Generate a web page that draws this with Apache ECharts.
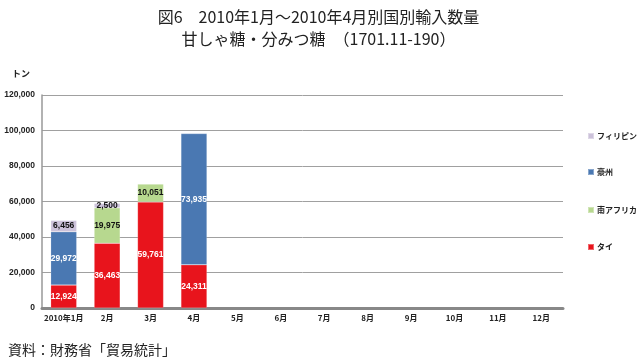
<!DOCTYPE html>
<html><head><meta charset="utf-8">
<script src="https://cdn.jsdelivr.net/npm/echarts@6/dist/echarts.min.js"></script>
<style>html,body{margin:0;padding:0;background:#fff}#c{width:637px;height:363px}</style>
</head><body><div id="c"></div>
<script>
const categories = ['2010年1月','2月','3月','4月','5月','6月','7月','8月','9月','10月','11月','12月'];
const thai = [12924, 36463, 59761, 24311, null, null, null, null, null, null, null, null];
const australia = [29972, null, null, 73935, null, null, null, null, null, null, null, null];
const southAfrica = [null, 19975, 10051, null, null, null, null, null, null, null, null, null];
const philippines = [6456, 2500, null, null, null, null, null, null, null, null, null, null];
const yTicks = [0, 20000, 40000, 60000, 80000, 100000, 120000];

const font = '"Noto Sans CJK JP", "Noto Sans", sans-serif';
const numFont = '"Liberation Sans", "Noto Sans CJK JP", sans-serif';
const chart = echarts.init(document.getElementById('c'));
function mk(name, data, color, labelColor) {
  return {
    name, type: 'bar', stack: 'a', data, barWidth: 26,
    itemStyle: { color, borderColor: 'rgba(255,255,255,0.35)', borderWidth: 0.5 },
    label: { show: true, position: 'inside', color: labelColor, fontSize: 8.5, fontWeight: 'bold', fontFamily: numFont,
      formatter: p => p.value == null ? '' : p.value.toLocaleString('en-US') }
  };
}
const legendItems = [['フィリピン', 132], ['豪州', 168], ['南アフリカ', 206], ['タイ', 243]];
chart.setOption({
  animation: false,
  title: {
    text: '図6　2010年1月～2010年4月別国別輸入数量\n甘しゃ糖・分みつ糖　（1701.11-190）',
    left: 'center', top: 1,
    textStyle: { fontFamily: font, fontSize: 16, fontWeight: 'normal', color: '#222', lineHeight: 22 }
  },
  graphic: [
    { type: 'text', left: 12, top: 69, style: { text: 'トン', font: 'bold 9px ' + font, fill: '#222' } },
    { type: 'text', left: 8, top: 343, style: { text: '資料：財務省「貿易統計」', font: '14px ' + font, fill: '#222' } }
  ],
  legend: legendItems.map(([n, t]) => ({
    data: [n], left: 587, top: t, width: 60, itemWidth: 6, itemHeight: 6, icon: 'rect',
    textStyle: { fontFamily: font, fontSize: 8, fontWeight: 'bold', color: '#222', padding: [0, 0, 0, -2] }, itemGap: 3, padding: 0
  })),
  grid: { left: 42, right: 74, top: 95, bottom: 55, containLabel: false },
  xAxis: {
    type: 'category', data: categories,
    axisLine: { lineStyle: { color: '#888', width: 3 } },
    axisTick: { show: false },
    axisLabel: { fontFamily: font, fontSize: 8, fontWeight: 'bold', color: '#222', margin: 6, interval: 0 }
  },
  yAxis: {
    type: 'value', min: 0, max: 120000, interval: 20000,
    axisLine: { show: true, lineStyle: { color: '#999', width: 1.5 } },
    axisTick: { show: false },
    splitLine: { lineStyle: { color: '#a0a0a0', width: 1 } },
    axisLabel: { fontFamily: numFont, fontSize: 8.5, fontWeight: 'bold', color: '#222', margin: 7,
      formatter: v => yTicks.includes(v) ? v.toLocaleString('en-US') : '' }
  },
  series: [
    mk('タイ', thai, '#E8141C', '#fff'),
    mk('豪州', australia, '#4A78B2', '#fff'),
    mk('南アフリカ', southAfrica, '#B7D88F', '#111'),
    mk('フィリピン', philippines, '#CCC2DA', '#111')
  ]
});
</script></body></html>
